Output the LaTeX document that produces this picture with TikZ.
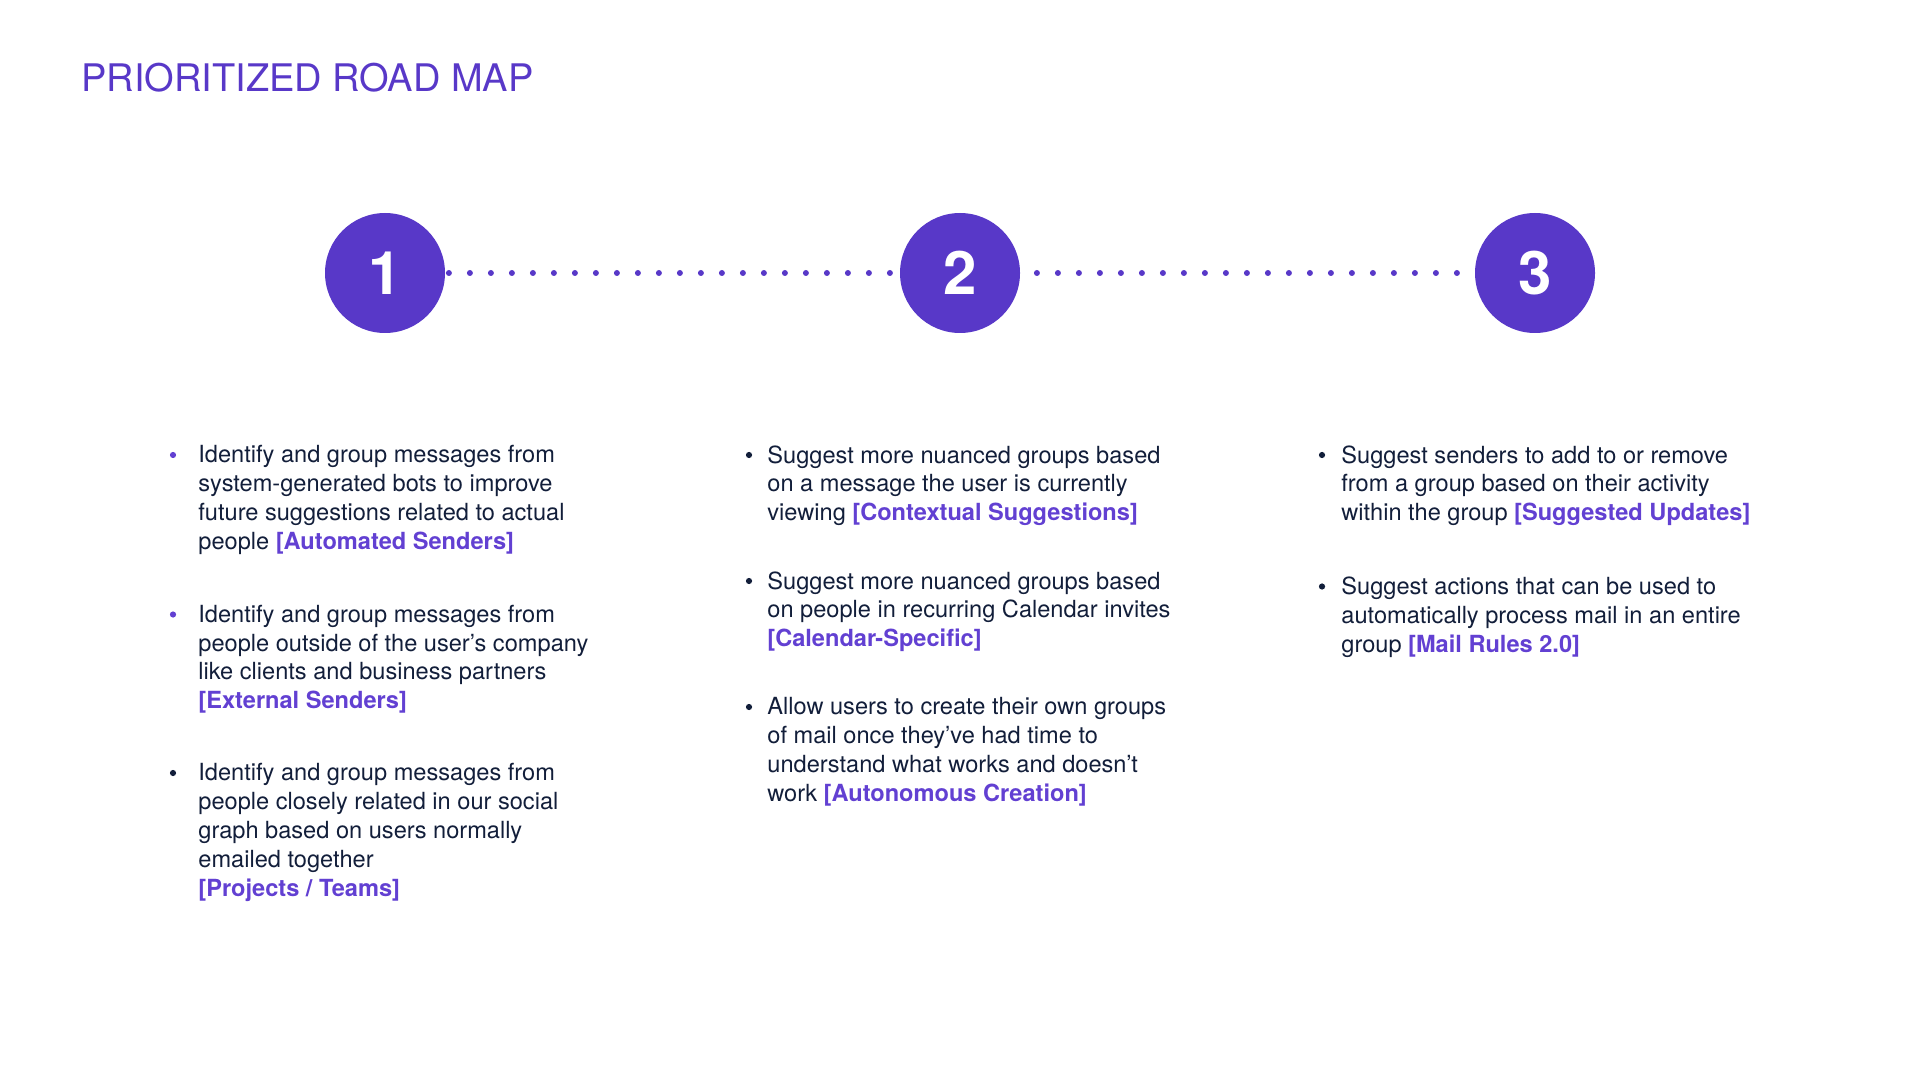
\documentclass[tikz,border=0pt]{standalone}
\usepackage{fontspec}
\setmainfont{TeX Gyre Heros}
\usepackage{xcolor}
\usetikzlibrary{positioning, calc, backgrounds}
\definecolor{mapPurple}{RGB}{88,56,200}
\definecolor{mapLabel}{RGB}{98,64,210}
\definecolor{mapInk}{RGB}{18,30,58}
\newcommand{\feat}[1]{{\bfseries\color{mapLabel}#1}}

\begin{document}
\begin{tikzpicture}[
    x=0.5pt, y=-0.5pt,
    stepcirc/.style={circle, fill=mapPurple, minimum size=60pt, inner sep=0pt, text=white, font=\fontsize{30}{30}\selectfont\bfseries},
    itembox/.style={anchor=north west, inner sep=0pt, align=left, text=mapInk, font=\fontsize{11.8}{14.45}\selectfont},
    bulletdot/.style={circle, fill=mapInk, minimum size=3.1pt, inner sep=0pt},
    dotlink/.style={draw=mapPurple, line width=3pt, line cap=round, dash pattern=on 0pt off 10.5pt, shorten <=1.75pt}
]
\useasboundingbox (0,0) rectangle (1920,1080);

% Title
\node (title) [anchor=base west, inner sep=0pt, text=mapPurple, font=\fontsize{19}{23}\selectfont] at (81,92) {PRIORITIZED ROAD MAP};

% Road map steps
\node (step_one) [stepcirc] at (385,273) {1};
\node (step_two) [stepcirc] at (960,273) {2};
\node (step_three) [stepcirc] at (1535,273) {3};

% Step 1 items
\node (item_one_a) [itembox] at (198,445) {Identify and group messages from\\system-generated bots to improve\\future suggestions related to actual\\people \feat{[Automated Senders]}};
\node (item_one_b) [itembox] at (198,604.5) {Identify and group messages from\\people outside of the user’s company\\like clients and business partners\\\feat{[External Senders]}};
\node (item_one_c) [itembox] at (198,763) {Identify and group messages from\\people closely related in our social\\graph based on users normally\\emailed together\\\feat{[Projects / Teams]}};

% Step 2 items
\node (item_two_a) [itembox] at (767,445) {Suggest more nuanced groups based\\on a message the user is currently\\viewing \feat{[Contextual Suggestions]}};
\node (item_two_b) [itembox] at (767,571) {Suggest more nuanced groups based\\on people in recurring Calendar invites\\\feat{[Calendar-Specific]}};
\node (item_two_c) [itembox] at (767,697) {Allow users to create their own groups\\of mail once they’ve had time to\\understand what works and doesn’t\\work \feat{[Autonomous Creation]}};

% Step 3 items
\node (item_three_a) [itembox] at (1341,445) {Suggest senders to add to or remove\\from a group based on their activity\\within the group \feat{[Suggested Updates]}};
\node (item_three_b) [itembox] at (1341,576.5) {Suggest actions that can be used to\\automatically process mail in an entire\\group \feat{[Mail Rules 2.0]}};

% Bullets
\node (dot_one_a) [bulletdot, fill=mapLabel] at ($(item_one_a.north west)+(-25,10)$) {};
\node (dot_one_b) [bulletdot, fill=mapLabel] at ($(item_one_b.north west)+(-25,10)$) {};
\node (dot_one_c) [bulletdot] at ($(item_one_c.north west)+(-25,10)$) {};
\node (dot_two_a) [bulletdot] at ($(item_two_a.north west)+(-18,10)$) {};
\node (dot_two_b) [bulletdot] at ($(item_two_b.north west)+(-18,10)$) {};
\node (dot_two_c) [bulletdot] at ($(item_two_c.north west)+(-18,10)$) {};
\node (dot_three_a) [bulletdot] at ($(item_three_a.north west)+(-19,10)$) {};
\node (dot_three_b) [bulletdot] at ($(item_three_b.north west)+(-19,10)$) {};

% Connections
\begin{scope}[on background layer]
\draw [dotlink] (step_one) -- (step_three);
\end{scope}

\end{tikzpicture}
\end{document}
